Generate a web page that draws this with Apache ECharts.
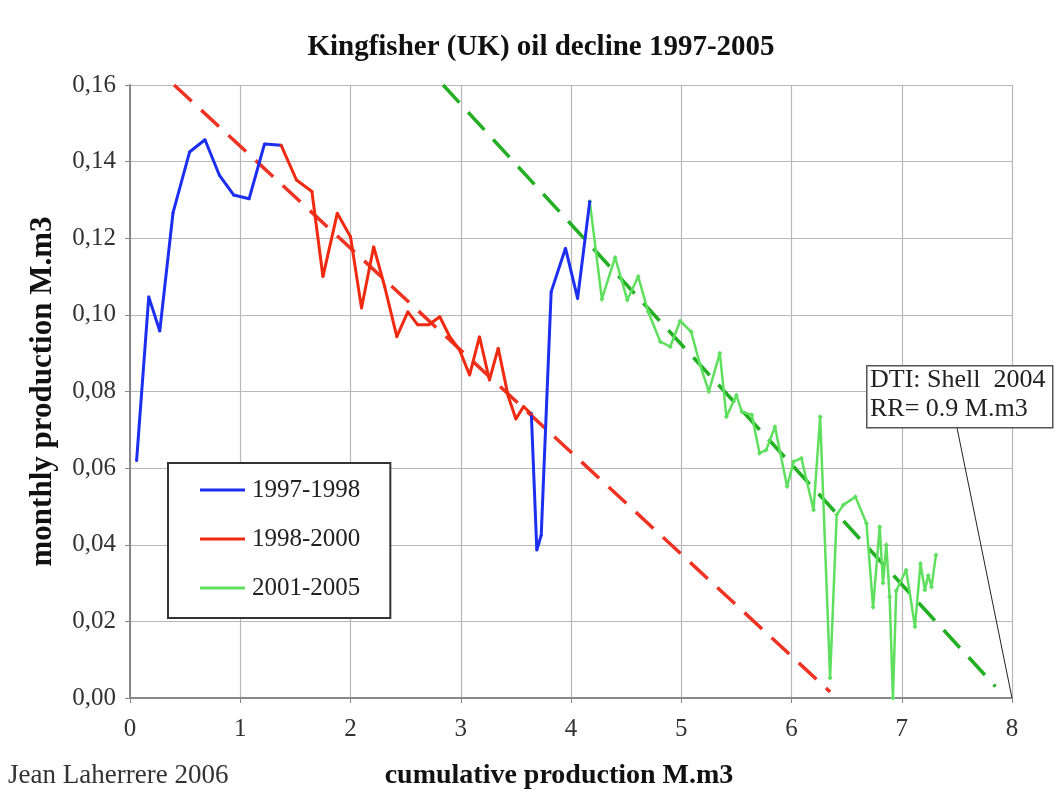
<!DOCTYPE html>
<html><head><meta charset="utf-8">
<script src="https://cdn.jsdelivr.net/npm/echarts@6/dist/echarts.min.js"></script>
<style>html,body{margin:0;padding:0;background:#fff}#c{width:1055px;height:798px}</style>
</head><body><div id="c"></div>
<script>
// ---- data ----
const blueAX = [0.06,0.17,0.27,0.39,0.54,0.68,0.81,0.94,1.08,1.22,1.37];
const blueAY = [0.062,0.1047,0.0958,0.1266,0.1425,0.1457,0.1365,0.1313,0.1303,0.1446,0.1443];
const blueBX = [3.64,3.69,3.73,3.82,3.95,4.06,4.17];
const blueBY = [0.0743,0.0386,0.0425,0.106,0.1174,0.1043,0.1296];
const redX = [1.37,1.51,1.65,1.75,1.88,2.00,2.10,2.21,2.31,2.42,2.52,2.61,2.71,2.81,2.90,2.99,3.08,3.17,3.26,3.34,3.43,3.50,3.57,3.64];
const redY = [0.1443,0.1352,0.1322,0.110,0.1265,0.1204,0.1018,0.1178,0.1074,0.0943,0.1008,0.0974,0.0974,0.0995,0.0943,0.0908,0.0843,0.0943,0.0830,0.0913,0.0788,0.0728,0.0761,0.0741];
const greenX = [4.17,4.28,4.40,4.51,4.61,4.70,4.81,4.90,4.99,5.09,5.17,5.25,5.35,5.41,5.50,5.55,5.64,5.71,5.77,5.85,5.96,6.02,6.09,6.20,6.26,6.35,6.41,6.47,6.58,6.68,6.74,6.80,6.83,6.86,6.89,6.92,6.95,7.04,7.12,7.17,7.21,7.24,7.27,7.31];
const greenY = [0.1296,0.1041,0.115,0.1039,0.110,0.1008,0.093,0.0917,0.0984,0.0956,0.087,0.080,0.090,0.0734,0.079,0.0747,0.0739,0.0639,0.0647,0.0708,0.0552,0.0617,0.0626,0.0491,0.0734,0.0052,0.0478,0.0504,0.0525,0.0456,0.0237,0.0447,0.030,0.040,0.0264,0.0,0.028,0.0334,0.0186,0.0351,0.0282,0.032,0.029,0.0373];
const redTrendX = [0.40, 6.35];
const redTrendY = [0.16, 0.0016];
const greenTrendX = [2.84, 7.85];
const greenTrendY = [0.16, 0.003];
const pointerX = [7.50, 8];
const pointerY = [0.0707, 0];
const seriesNames = ['1997-1998','1998-2000','2001-2005'];
const titleText = 'Kingfisher (UK) oil decline 1997-2005';
const xName = 'cumulative production M.m3';
const yName = 'monthly production M.m3';
const noteLines = ['DTI: Shell  2004', 'RR= 0.9 M.m3'];
const credit = 'Jean Laherrere 2006';

const zip = (xs, ys) => xs.map((x, i) => [x, ys[i]]);
const SERIF = '"Liberation Serif", "DejaVu Serif", serif';

const blueData = zip(blueAX, blueAY).concat([['-', '-']], zip(blueBX, blueBY));

const chart = echarts.init(document.getElementById('c'));
chart.setOption({
  animation: false,
  backgroundColor: '#fff',
  title: {
    text: titleText, left: 536, textAlign: 'center', top: 28,
    textStyle: { fontFamily: SERIF, fontWeight: 'bold', fontSize: 29, color: '#111' }
  },
  grid: { left: 130, right: 43, top: 85, bottom: 100 },
  xAxis: {
    type: 'value', min: 0, max: 8, interval: 1,
    name: xName, nameLocation: 'middle', nameGap: 64,
    nameTextStyle: { fontFamily: SERIF, fontWeight: 'bold', fontSize: 28, color: '#111', padding: [0, 24, 0, 0] },
    axisLine: { lineStyle: { color: '#888', width: 2 } },
    axisTick: { show: true, length: 5, lineStyle: { color: '#888' } },
    axisLabel: { fontFamily: SERIF, fontSize: 25, color: '#333', margin: 19 },
    splitLine: { show: true, lineStyle: { color: '#b8b8b8', width: 1.2 } }
  },
  yAxis: {
    type: 'value', min: 0, max: 0.16, interval: 0.02,
    name: yName, nameLocation: 'middle', nameGap: 72, nameRotate: 90,
    nameTextStyle: { fontFamily: SERIF, fontWeight: 'bold', fontSize: 31, color: '#111', padding: [0, 0, 0, 0] },
    axisLine: { show: true, lineStyle: { color: '#888', width: 2 } },
    axisTick: { show: true, length: 5, lineStyle: { color: '#888' } },
    axisLabel: { fontFamily: SERIF, fontSize: 25, color: '#333', margin: 14,
      formatter: v => v.toFixed(2).replace('.', ',') },
    splitLine: { show: true, lineStyle: { color: '#b8b8b8', width: 1.2 } }
  },
  legend: {
    data: seriesNames, orient: 'vertical', left: 168, top: 463,
    icon: 'rect', itemWidth: 45, itemHeight: 3, itemGap: 23,
    padding: [14, 30, 17, 32],
    backgroundColor: '#fff', borderColor: '#333', borderWidth: 2,
    textStyle: { fontFamily: SERIF, fontSize: 25, lineHeight: 26, color: '#222', padding: [0, 0, 0, 2] }
  },
  graphic: [
    { type: 'rect', left: 866, top: 365, shape: { width: 186, height: 62 },
      style: { fill: '#fff', stroke: '#555', lineWidth: 1.5 }, z: 100 },
    { type: 'text', left: 870, top: 366, z: 101,
      style: { text: noteLines.join('\n'), font: '26px ' + SERIF, fill: '#222', lineHeight: 29 } },
    { type: 'text', left: 8, top: 762, z: 101,
      style: { text: credit, font: '27px ' + SERIF, fill: '#333' } }
  ],
  series: [
    { name: 'redTrend', type: 'line', data: zip(redTrendX, redTrendY), symbol: 'none',
      lineStyle: { color: '#ee3322', width: 3.5, type: [24, 13] }, z: 1, silent: true },
    { name: 'greenTrend', type: 'line', data: zip(greenTrendX, greenTrendY), symbol: 'none',
      lineStyle: { color: '#22b022', width: 3.5, type: [24, 13] }, z: 1, silent: true },
    { name: seriesNames[0], type: 'line', data: blueData, symbol: 'circle', symbolSize: 3,
      lineStyle: { color: '#1c2ff0', width: 3 }, itemStyle: { color: '#1c2ff0' }, z: 3 },
    { name: seriesNames[1], type: 'line', data: zip(redX, redY), symbol: 'circle', symbolSize: 3,
      lineStyle: { color: '#f02a10', width: 3 }, itemStyle: { color: '#f02a10' }, z: 3 },
    { name: seriesNames[2], type: 'line', data: zip(greenX, greenY), symbol: 'diamond', symbolSize: 5,
      lineStyle: { color: '#5ee05e', width: 2.5 }, itemStyle: { color: '#5ee05e' }, z: 2 },
    { name: 'pointer', type: 'line', data: zip(pointerX, pointerY), symbol: 'none', clip: false,
      lineStyle: { color: '#222', width: 1 }, z: 5, silent: true }
  ]
});
</script></body></html>
